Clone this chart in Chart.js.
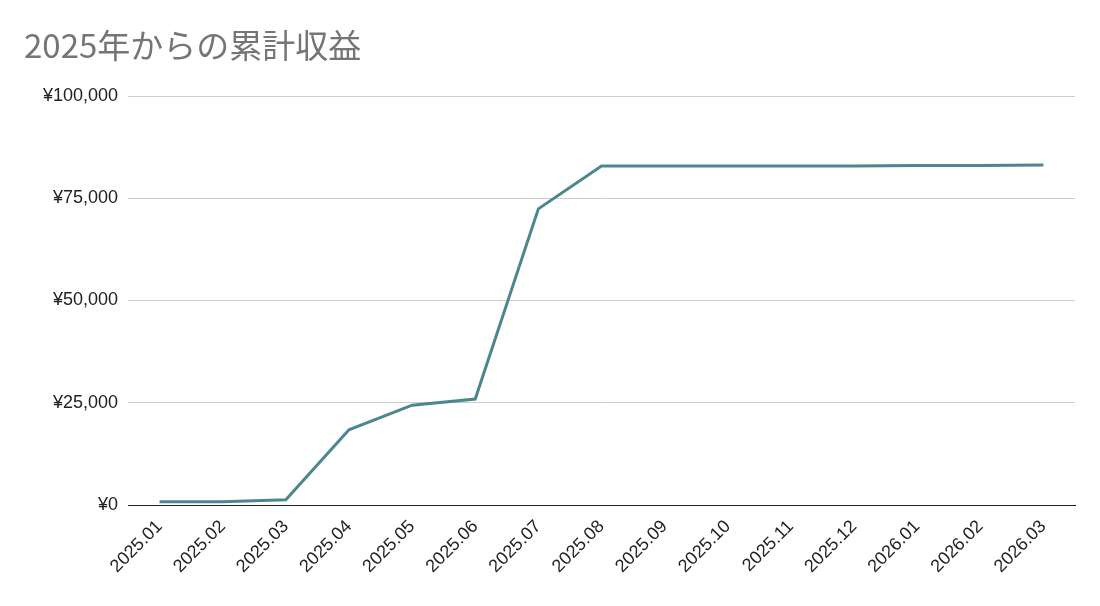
<!DOCTYPE html>
<html><head><meta charset="utf-8">
<script src="https://cdn.jsdelivr.net/npm/chart.js@4"></script>
<style>html,body{margin:0;background:#fff}#w{width:1100px;height:606px;position:relative}
#t{position:absolute;left:24px;top:20px;font:33px "Noto Sans CJK JP",sans-serif;color:#757575}</style>
</head><body><div id="w"><div id="t">2025年からの累計収益</div><canvas id="c" width="1100" height="606"></canvas></div>
<script>
const categories=["2025.01","2025.02","2025.03","2025.04","2025.05","2025.06","2025.07","2025.08","2025.09","2025.10","2025.11","2025.12","2026.01","2026.02","2026.03"];
const revenue=[800,800,1300,18400,24400,25900,72400,82900,82900,82900,82900,82900,83000,83000,83100];
const yTicks=[0,25000,50000,75000,100000];
new Chart(document.getElementById('c'),{type:'line',
data:{labels:categories,datasets:[{data:revenue,borderColor:'#4b878e',borderWidth:3,pointRadius:0,tension:0,fill:false}]},
options:{responsive:false,animation:false,layout:{padding:{top:96,right:25,left:10,bottom:0}},
plugins:{legend:{display:false},tooltip:{enabled:false}},
scales:{x:{offset:true,grid:{display:false},border:{color:'#222',width:1},
ticks:{color:'#222',font:{size:18,family:'"Liberation Sans",sans-serif'},maxRotation:45,minRotation:45,autoSkip:false},
afterFit(s){s.height=101;}},
y:{min:0,max:100000,afterBuildTicks(s){s.ticks=yTicks.map(v=>({value:v}));},
grid:{color:'#cccccc',drawTicks:false},border:{display:false},
ticks:{color:'#222',padding:10,font:{size:18,family:'"Liberation Sans",sans-serif'},callback:v=>'¥'+v.toLocaleString('en-US')},
afterFit(s){s.width=118;}}}}});
</script></body></html>
